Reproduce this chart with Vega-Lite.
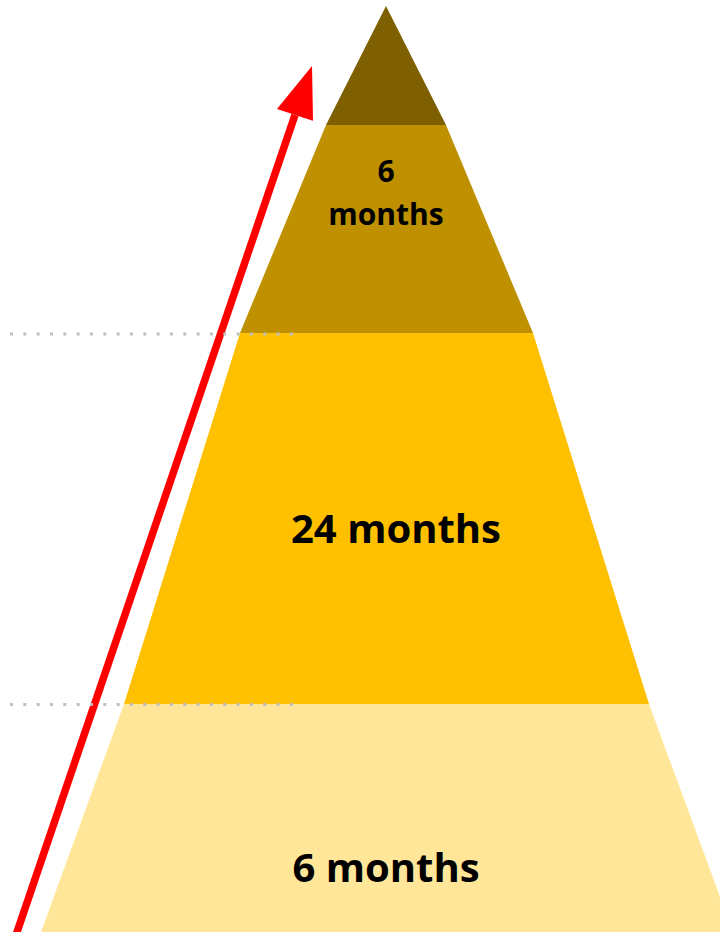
{
  "$schema": "https://vega.github.io/schema/vega-lite/v6.json",
  "width": 720,
  "height": 932,
  "autosize": "none",
  "padding": 0,
  "background": "white",
  "config": {"view": {"stroke": null}},
  "resolve": {"scale": {"color": "independent"}},
  "encoding": {},
  "layer": [
    {
      "data": {"values": [
        {"band": "top", "y": 6, "xl": 386, "xr": 386},
        {"band": "top", "y": 125, "xl": 326, "xr": 446},
        {"band": "upper", "y": 125, "xl": 326, "xr": 446},
        {"band": "upper", "y": 333, "xl": 240, "xr": 533},
        {"band": "middle", "y": 333, "xl": 240, "xr": 533},
        {"band": "middle", "y": 704, "xl": 124, "xr": 649},
        {"band": "bottom", "y": 704, "xl": 124, "xr": 649},
        {"band": "bottom", "y": 932, "xl": 41, "xr": 733}
      ]},
      "mark": {"type": "area", "orient": "horizontal", "clip": true},
      "encoding": {
        "y": {"field": "y", "type": "quantitative", "scale": {"domain": [0, 932], "reverse": true, "nice": false, "zero": false}, "axis": null},
        "x": {"field": "xl", "type": "quantitative", "stack": null, "scale": {"domain": [0, 720], "nice": false, "zero": false}, "axis": null},
        "x2": {"field": "xr"},
        "color": {"field": "band", "type": "nominal", "legend": null,
          "scale": {"domain": ["top", "upper", "middle", "bottom"], "range": ["#7F6000", "#BF9000", "#FFC000", "#FFE699"]}}
      }
    },
    {
      "data": {"values": [
        {"x": 12.6, "y": 945, "x2": 295, "y2": 115}
      ]},
      "mark": {"type": "rule", "color": "#FF0000", "strokeWidth": 7.5, "strokeCap": "butt", "clip": true},
      "encoding": {
        "x": {"field": "x", "type": "quantitative"},
        "y": {"field": "y", "type": "quantitative"},
        "x2": {"field": "x2"},
        "y2": {"field": "y2"}
      }
    },
    {
      "data": {"values": [
        {"x": 277, "top": 109, "bottom": 109},
        {"x": 312, "top": 66, "bottom": 120.4},
        {"x": 313, "top": 120.7, "bottom": 120.7}
      ]},
      "mark": {"type": "area", "orient": "vertical", "color": "#FF0000"},
      "encoding": {
        "x": {"field": "x", "type": "quantitative"},
        "y": {"field": "top", "type": "quantitative", "stack": null},
        "y2": {"field": "bottom"}
      }
    },
    {
      "data": {"values": [
        {"x": 10, "x2": 293, "y": 334},
        {"x": 10, "x2": 293, "y": 704.5}
      ]},
      "mark": {"type": "rule", "color": "#BFBFBF", "strokeWidth": 3, "strokeDash": [3, 10.33], "strokeCap": "butt"},
      "encoding": {
        "x": {"field": "x", "type": "quantitative"},
        "x2": {"field": "x2"},
        "y": {"field": "y", "type": "quantitative"}
      }
    },
    {
      "data": {"values": [
        {"label": "6", "x": 386, "y": 182, "size": "small"},
        {"label": "months", "x": 386, "y": 225, "size": "small"},
        {"label": "24 months", "x": 396, "y": 543, "size": "large"},
        {"label": "6 months", "x": 386, "y": 882, "size": "large"}
      ]},
      "mark": {"type": "text", "font": "Open Sans", "fontWeight": "bold", "align": "center", "baseline": "alphabetic", "color": "#000000"},
      "encoding": {
        "x": {"field": "x", "type": "quantitative"},
        "y": {"field": "y", "type": "quantitative"},
        "text": {"field": "label"},
        "size": {"field": "size", "type": "nominal", "legend": null, "scale": {"domain": ["small", "large"], "range": [30, 40]}}
      }
    }
  ]
}
